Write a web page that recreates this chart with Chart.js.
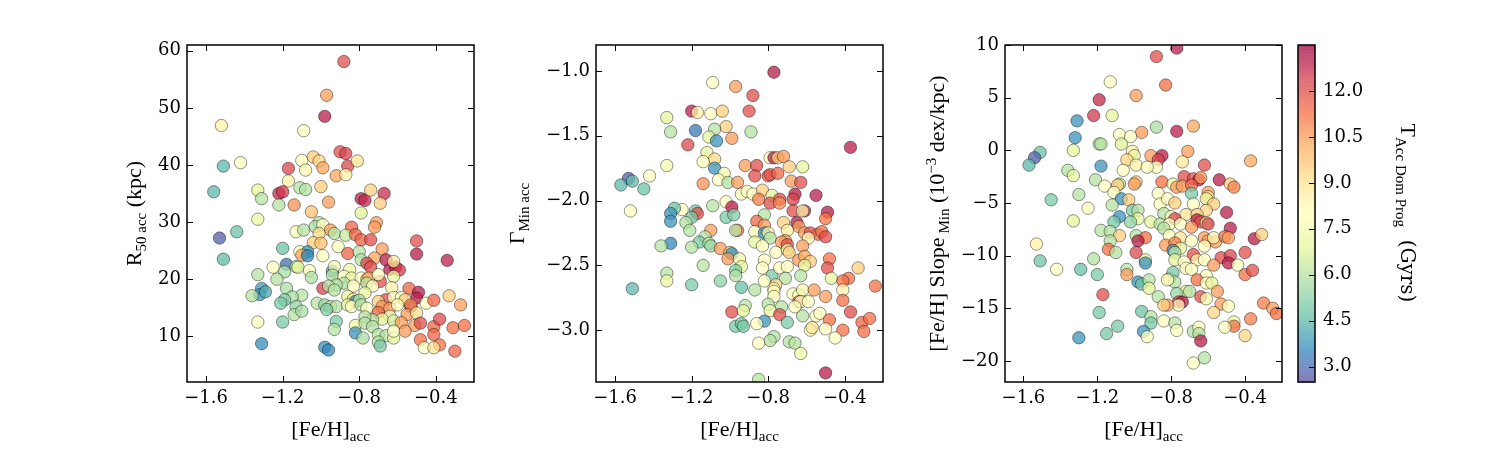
<!DOCTYPE html>
<html>
<head>
    <title>[Fe/H] acc vs R50, Gamma Min and Slope Min</title>
    <meta charset="utf-8">
    <script src="https://cdn.jsdelivr.net/npm/chart.js"></script>
    <style>
        body { margin: 0; background: #fff; }
        #wrap { position: relative; width: 1500px; height: 450px; }
        #wrap canvas { position: absolute; left: 0; top: 0; }
    </style>
</head>
<body>
<div id="wrap">
    <canvas id="c1" width="1500" height="450"></canvas>
    <canvas id="c2" width="1500" height="450"></canvas>
    <canvas id="c3" width="1500" height="450"></canvas>
    <canvas id="cb" width="1500" height="450"></canvas>
</div>
<script>
// ---- data ----
// panel 1: [Fe/H]acc, R50 acc (kpc), T Acc Dom Prog (Gyrs)
var feh1 = [
    -0.88,-0.97,-0.98,-1.52,-1.09,-0.90,-0.87,-1.42,-1.51,-1.10,
    -1.04,-1.01,-1.17,-1.08,-0.99,-0.86,-0.81,-0.92,-0.87,-1.17,
    -1.56,-1.33,-1.31,-1.22,-1.20,-1.11,-1.08,-1.00,-0.96,-1.14,
    -1.22,-0.79,-0.77,-0.74,-0.67,-0.69,-1.05,-0.79,-1.33,-0.71,
    -0.72,-0.84,-1.01,-1.13,-1.09,-1.03,-0.99,-0.95,-0.93,-1.01,
    -1.44,-0.87,-0.82,-0.79,-0.74,-0.50,-1.04,-1.00,-1.53,-0.91,
    -1.20,-1.11,-1.07,-1.10,-1.07,-0.86,-0.80,-0.79,-0.68,-0.72,
    -0.50,-0.34,-0.66,-1.51,-0.99,-0.76,-0.74,-0.64,-0.61,-0.59,
    -0.62,-1.25,-1.18,-1.13,-1.12,-1.06,-0.94,-0.93,-0.85,-1.33,
    -1.19,-1.05,-0.94,-0.88,-1.23,-0.84,-0.79,-0.76,-0.75,-0.69,
    -0.70,-0.62,
    -0.88,-0.92,-0.83,-0.76,-0.73,-0.99,-0.96,
    -1.18,-1.31,-1.32,-1.29,-1.36,-1.10,-1.15,-1.19,-0.93,-0.77,
    -0.63,-0.54,-0.49,-0.33,-0.50,-0.86,-0.83,-0.82,-0.80,-0.66,
    -0.62,-0.58,-0.56,-0.45,-0.41,-0.27,-1.02,-0.98,-0.95,-0.92,
    -0.86,-0.84,-0.79,-0.76,-0.70,-0.68,-0.64,-0.60,-0.53,-0.53,
    -0.55,-0.50,-1.13,-1.14,-1.10,
    -1.21,-0.97,-0.70,-0.64,
    -0.68,-0.73,-0.77,-0.62,-0.58,-0.51,-0.48,-0.41,-0.38,
    -0.31,-0.25,-1.33,-1.20,-0.92,-0.82,-0.77,-0.73,-0.93,-0.82,
    -0.78,-0.70,-0.66,-0.62,-0.62,-0.56,-0.41,-0.48,-0.38,-0.30,
    -0.46,-0.41,-1.31,-0.98,-0.96,-0.70,-0.69
];
var r50 = [
    58.1,52.2,48.5,46.9,46.0,42.3,42.0,40.4,39.8,40.8,
    41.4,40.7,39.4,39.1,39.5,39.8,40.7,38.1,38.3,37.2,
    35.3,35.6,34.1,35.0,35.3,36.0,35.7,36.2,33.5,33.0,
    33.0,34.1,33.8,35.6,35.0,33.3,31.8,31.6,30.5,29.9,
    29.1,29.1,29.9,28.3,28.6,29.2,29.5,28.6,28.0,28.0,
    28.3,27.7,27.8,26.9,26.9,26.7,26.4,26.3,27.2,25.7,
    25.4,24.8,24.8,24.2,24.1,24.5,24.8,23.4,25.3,23.7,
    24.4,23.3,23.4,23.5,24.1,22.8,22.1,21.7,22.1,21.6,
    23.1,22.1,22.6,22.2,22.1,21.5,21.4,22.2,21.7,20.8,
    21.3,20.3,20.7,20.5,20.0,20.2,20.2,20.0,20.2,19.6,
    20.8,20.5,
    19.3,19.0,18.8,19.3,18.8,18.4,18.8,
    18.4,18.4,17.3,17.8,17.1,17.2,16.9,16.4,18.1,17.6,
    18.5,18.4,17.7,17.1,16.7,17.0,16.5,16.1,16.3,16.4,
    16.8,16.8,16.4,15.8,16.3,15.5,15.8,15.5,15.2,15.2,
    15.5,15.2,15.5,14.9,16.1,15.2,14.9,15.5,15.2,15.5,
    13.8,14.1,15.2,13.8,14.4,
    15.8,14.7,14.2,13.5,
    13.0,12.9,13.4,12.7,12.4,11.9,12.3,11.7,13.0,
    11.5,11.9,12.5,12.5,12.6,11.9,12.3,11.7,11.2,10.6,
    9.7,10.3,10.1,9.7,10.9,10.9,10.3,9.4,8.5,7.4,
    8.0,8.0,8.7,8.1,7.6,9.0,8.3
];
var tAcc1 = [
    12,10.5,13,8.5,8,12,12.3,8,4.5,8,
    9.5,9.3,12.2,8.3,10.3,12.2,9,10.3,8.5,8.5,
    4.5,7,6,12.8,12.5,6,6,9.5,10.5,10.7,
    6,13,12.8,9.5,12.7,9.6,9.8,6.8,7.2,10.5,
    10.5,11.5,6,8,6,5.8,8,10.5,6,9.2,
    4.8,6.3,11.5,11.5,12,12,9.5,9.8,2.8,8,
    4.8,7.8,3.8,10.3,3.6,11.5,6,6,10.5,10.3,
    13,13,13,4.6,8,12.2,12,13,13,12.5,
    8.8,8,3.2,6.2,7,8,4,7.5,7.2,6,
    5.8,5.8,6,8,6,7.5,8,9.5,10.3,12,
    8,7,
    5.8,6,8,6,8,12.3,6,
    5.8,4,3.8,4.2,6,6,5.8,5.2,6,7,
    8.5,11.5,13,9.5,13,7,9,3.8,6,12,
    8,8,9.5,8,11.5,10.5,6,5.5,6,6,
    7,8,6,8,9.5,10.5,10.5,8,13,10.8,
    10.5,9,5.5,6,5.8,
    5,5.2,11.5,8,
    7,6,6,6.5,10.5,10.5,12,11.5,12.2,
    11.3,11.3,8,5,5,7.2,6,6,6,3.8,
    5.8,6,6,7,8,10.5,11.5,11.3,11.3,11.5,
    8,9,3.7,3.7,3.6,6,5
];

// panel 2: [Fe/H]acc, Gamma Min acc, T Acc Dom Prog (Gyrs)
var feh2 = [
    -0.77,-1.09,-0.97,-0.88,-1.20,-1.17,-1.10,-1.04,-0.90,-1.33,
    -1.02,-1.08,-0.89,-1.31,-1.18,-1.11,-1.07,-0.99,-1.22,-0.37,
    -1.12,-1.08,-1.14,-0.79,-0.77,-0.75,-0.72,-1.33,-0.92,-0.86,
    -0.69,-0.62,-1.08,-1.03,-1.42,-1.53,-1.57,-1.51,-1.45,-1.06,
    -0.87,-0.80,-0.79,-0.75,-0.68,-0.63,-1.14,-1.01,-0.96,-0.94,
    -0.91,-0.88,-0.83,-0.78,-0.85,-0.74,-0.66,-0.67,-0.55,-0.79,
    -0.74,-1.52,-1.25,-1.29,-1.31,-1.31,-1.31,-1.09,-1.02,-0.99,
    -1.02,-0.98,-1.18,-1.17,-1.20,-1.23,-1.21,-0.67,-0.61,-0.62,
    -0.49,-0.50,-0.82,-0.65,-0.72,-0.86,-0.82,-0.64,-1.10,-0.96,
    -0.97,-0.87,-0.82,-0.80,-0.79,-0.70,-0.71,-0.61,-0.58,-0.54,
    -0.52,-0.50,-0.59,-1.13,-1.16,-1.11,-1.10,-1.36,-1.20,-0.87,
    -0.83,-0.73,-0.70,-0.76,-0.70,-0.69,-0.62,-1.05,-1.00,-0.99,
    -1.01,-0.95,-0.94,-0.82,-0.64,-0.61,-0.58,-0.61,-0.48,-0.49,
    -1.14,-1.33,-0.97,-0.97,-1.33,-0.83,-0.78,-0.74,-0.70,-0.63,
    -0.47,-0.38,-0.41,-0.33,-1.20,-1.05,-0.94,-1.51,-0.82,-0.71,
    -0.76,-0.77,-0.77,-0.87,-0.24,-0.67,-0.64,-0.62,-0.56,-0.50,
    -0.41,-0.41,-0.77,-0.64,-0.63,-0.59,-0.80,-0.73,-0.79,-0.66,
    -0.99,-0.92,-0.93,-0.74,-0.62,-0.55,-0.53,-0.48,-0.37,-0.31,
    -0.27,-0.97,-0.94,-0.93,-0.82,-0.86,-0.70,-0.58,-0.57,-0.50,
    -0.41,-0.30,-0.77,-0.79,-0.85,-0.69,-0.66,-0.45,-0.63,-0.50,
    -0.85
];
var gammaMin = [
    -1.01,-1.09,-1.12,-1.19,-1.31,-1.32,-1.33,-1.31,-1.31,-1.36,
    -1.43,-1.45,-1.47,-1.47,-1.46,-1.51,-1.54,-1.52,-1.57,-1.59,
    -1.63,-1.68,-1.70,-1.67,-1.67,-1.67,-1.66,-1.73,-1.73,-1.73,
    -1.74,-1.74,-1.75,-1.79,-1.81,-1.83,-1.88,-1.85,-1.91,-1.84,
    -1.81,-1.81,-1.80,-1.79,-1.85,-1.86,-1.87,-1.86,-1.86,-1.95,
    -1.93,-1.95,-1.92,-1.96,-1.99,-1.99,-1.95,-1.99,-1.96,-2.02,
    -2.02,-2.08,-2.07,-2.06,-2.10,-2.16,-2.33,-2.04,-2.01,-2.05,
    -2.13,-2.11,-2.08,-2.10,-2.13,-2.17,-2.23,-2.08,-2.08,-2.08,
    -2.09,-2.14,-2.11,-2.17,-2.17,-2.16,-2.19,-2.20,-2.23,-2.23,
    -2.23,-2.24,-2.25,-2.25,-2.29,-2.23,-2.31,-2.25,-2.25,-2.26,
    -2.24,-2.28,-2.29,-2.28,-2.32,-2.33,-2.35,-2.35,-2.36,-2.32,
    -2.35,-2.32,-2.34,-2.40,-2.38,-2.40,-2.35,-2.37,-2.40,-2.41,
    -2.45,-2.45,-2.51,-2.46,-2.46,-2.43,-2.47,-2.50,-2.45,-2.52,
    -2.50,-2.56,-2.54,-2.58,-2.62,-2.52,-2.58,-2.52,-2.51,-2.58,
    -2.60,-2.60,-2.62,-2.52,-2.65,-2.62,-2.67,-2.68,-2.62,-2.60,
    -2.65,-2.68,-2.70,-2.69,-2.66,-2.72,-2.73,-2.69,-2.69,-2.74,
    -2.69,-2.77,-2.74,-2.78,-2.78,-2.78,-2.80,-2.82,-2.85,-2.82,
    -2.86,-2.81,-2.85,-2.88,-2.89,-2.89,-2.87,-2.92,-2.86,-2.94,
    -2.91,-2.97,-2.95,-2.97,-2.93,-2.95,-2.94,-3.00,-2.98,-2.99,
    -3.00,-3.01,-3.05,-3.08,-3.10,-3.09,-3.10,-3.06,-3.18,-3.33,
    -3.38
];
var tAcc2 = [
    13,8,10.5,12,13,8.5,8,9.5,12,7,
    9.5,6,6,6,3.3,7,3.8,10.5,12.2,13,
    7,9.2,8,8,13,9.5,10.5,7.5,10.5,12,
    9.5,7,3.8,7.5,8,2.8,4.5,4.6,4.8,8,
    12,11.5,12,11.5,10.5,12,10.7,6,10.5,8,
    8,8,9.5,7,11,12,13,12.3,13,12,
    10.8,8,8,4.8,3.8,3.8,3.6,6,8,13,
    5,5.2,5,12,5,6,6,12,13,8.5,
    13,11.2,6,13,9.5,11.5,10.5,10.5,10.5,11,
    6,8,3.8,7.3,6,8.7,10.5,10.5,12,11.5,
    11.3,12,8,6,5,6,5.5,6,6,7,
    8,10.5,12,8,7.3,9.5,10.5,10.5,9.5,3.8,
    10.5,7.5,7,8,10.5,10.3,9.5,7,11.3,12,
    6,6,5,6,7.3,8,5,8,8,6,
    7,11.3,11.3,9.5,5,5.3,4.7,4.5,8,6,
    9.3,8,8.3,6,11.3,8,8,7.5,10.5,10.5,
    8.5,11.3,8,11.3,8,8,6,6,7.3,8,
    12,6,7,12,6,8,8,11.3,12,11.5,
    11.3,5,5,5,3.8,8,5,8,9,8,
    11.3,11.3,6,6,8,6,6,8,7.3,13,
    6
];

// panel 3: [Fe/H]acc, [Fe/H] Slope Min (1e-3 dex/kpc), T Acc Dom Prog (Gyrs)
var feh3 = [
    -0.77,-0.88,-0.83,-1.13,-0.99,-1.19,-1.22,-1.12,-1.31,-0.88,
    -0.68,-0.77,-0.96,-1.08,-1.02,-1.32,-1.19,-1.18,-1.07,-1.33,
    -1.51,-1.54,-1.57,-1.01,-1.00,-1.04,-0.99,-0.91,-0.85,-0.87,
    -0.88,-0.93,-0.71,-0.74,-0.62,-0.37,-1.18,-1.06,-1.36,-1.33,
    -1.21,-1.08,-1.09,-1.16,-1.11,-0.99,-1.00,-0.85,-0.73,-0.68,
    -0.65,-0.64,-0.54,-0.79,-0.77,-0.74,-0.69,-0.48,-0.46,-0.69,
    -0.87,-0.60,-0.60,-1.30,-1.45,-1.07,-1.03,-1.25,-0.86,-0.82,
    -0.78,-0.68,-0.61,-0.57,-0.61,-0.50,-1.12,-1.01,-0.98,-1.08,
    -0.98,-0.84,-0.80,-0.72,-0.66,-0.78,-1.33,-1.11,-1.02,-0.91,
    -0.86,-0.81,-0.75,-0.66,-0.64,-0.61,-0.60,-0.84,-0.69,-0.48,
    -1.18,-1.13,-1.08,-0.99,-0.94,-0.98,-0.81,-0.75,-0.69,-0.62,
    -0.60,-0.56,-0.57,-0.51,-0.49,-0.35,-0.31,-1.13,-1.53,-0.83,
    -0.78,-0.75,-0.79,-0.62,-1.14,-1.10,-0.99,-0.78,-0.68,-0.53,
    -0.48,-0.40,
    -0.94,-0.94,-1.22,-1.51,-0.78,-0.73,-0.66,
    -0.62,-0.57,-0.49,-0.44,-1.42,-1.29,-1.20,-1.04,-1.04,-0.72,
    -0.69,-0.61,-0.40,-0.36,-0.81,-0.79,-0.78,-0.82,-0.98,-0.96,
    -0.92,-0.92,-0.66,-0.61,-0.58,-0.72,-0.70,-0.77,-0.55,-1.17,
    -0.87,-0.64,-0.61,-0.76,-0.74,-0.76,-0.82,-0.84,-0.53,-0.49,
    -0.96,-1.19,-0.57,-0.30,-0.25,-0.23,-0.37,-0.91,-0.91,-0.84,
    -0.78,-0.46,-0.46,-0.51,-1.09,-1.15,-1.30,-0.95,-0.93,-0.77,
    -0.68,-0.65,-0.65,-0.40,-0.64,-0.68,-0.62
];
var slopeMin = [
    9.7,8.9,6.2,6.5,5.2,4.8,3.3,3.3,2.8,2.2,
    2.3,1.8,1.7,1.5,1.3,1.2,0.6,0.6,0.6,0.0,
    -0.2,-0.7,-1.4,-0.1,-0.5,-0.9,-1.4,-0.5,-0.5,-0.9,
    -1.6,-1.6,-0.1,-1.1,-1.4,-1.0,-1.5,-1.9,-1.9,-2.4,
    -2.8,-3.2,-3.3,-3.4,-4.0,-3.0,-3.2,-3.0,-2.5,-2.7,
    -2.8,-2.6,-2.8,-3.2,-3.5,-3.4,-3.3,-3.2,-3.5,-4.1,
    -4.1,-4.0,-4.4,-4.2,-4.7,-4.6,-4.7,-5.5,-5.1,-4.6,
    -5.0,-5.1,-4.6,-5.1,-5.7,-5.9,-5.2,-5.7,-5.7,-6.3,
    -6.5,-6.0,-6.3,-6.1,-6.1,-6.5,-6.7,-6.8,-6.8,-6.8,
    -7.0,-7.0,-7.0,-6.6,-6.8,-6.9,-7.0,-7.4,-7.3,-7.4,
    -7.6,-7.7,-8.1,-8.1,-8.3,-8.6,-8.1,-8.3,-8.6,-8.3,
    -8.6,-8.7,-8.3,-8.2,-8.3,-8.4,-8.0,-8.6,-8.9,-9.0,
    -8.8,-9.3,-9.5,-9.1,-9.4,-9.7,-9.7,-9.7,-9.9,-10.2,
    -10.0,-9.7,
    -10.4,-10.7,-10.3,-10.5,-10.4,-10.6,-10.4,
    -10.4,-10.9,-10.7,-10.9,-11.3,-11.3,-11.8,-11.3,-11.8,-11.2,
    -11.3,-11.9,-11.8,-11.4,-12.2,-11.6,-12.5,-12.3,-12.5,-12.7,
    -12.3,-13.1,-12.3,-12.6,-12.6,-13.4,-13.4,-13.6,-13.4,-13.7,
    -13.9,-13.9,-14.1,-14.4,-14.4,-14.7,-14.7,-14.7,-14.6,-14.8,
    -15.3,-15.4,-15.4,-14.5,-15.0,-15.5,-16.0,-15.8,-16.4,-16.2,
    -16.4,-16.3,-16.7,-16.8,-16.7,-17.4,-17.8,-17.2,-17.7,-17.1,
    -17.2,-16.8,-17.4,-17.6,-18.1,-20.2,-19.7
];
var tAcc3 = [
    13,12,11.3,8,10.5,12.8,12.5,7,3.8,5.8,
    10.3,13,10.5,8,8,3.8,6,6,6.8,7,
    4.7,2.8,4.5,8.5,7,9.3,8.5,10.5,13,12.3,
    8,8,10.5,8.8,12,10.3,3.8,8,6,7,
    6,6,9.5,8,8,9.5,10.5,11.3,12,12,
    13,10.5,13,7,10.5,10.5,11.5,9.5,11,5,
    8,10.5,9.3,6,5,3.8,9.5,8,8,8,
    9.5,8,7,9.5,9.3,13,6,5,6,3.8,
    7,6,8,9,9.3,12.2,7,5,5.3,7,
    6,8,8,13,12,7,12.2,6,10.5,13,
    6,6,9.5,6,11.3,13,8,9,8,10.5,
    10.5,10.5,8.3,11.3,10.5,13,9.5,6,8.5,10.5,
    11,7,3.8,8,11.3,6,12.2,6,12,12,
    12.3,12,
    7,3.8,6,4.8,7,8,8.5,
    8,10.5,13,8,8,4.7,5,6,10.5,8,
    8,8,11.3,12,9,5,6,8,3.8,4.8,
    6,7,11.3,8,7,7,6,5.5,10.5,12,
    6,12,7.5,12.3,13,8,10.5,9.5,10.5,8,
    4.8,5,9.3,11,10.5,11.3,11,6,5,8,
    6,7.3,11.3,8,5,5,3.8,3.8,8,8,
    6,8,6,9.3,13,8,6
];

// axis limits and tick labels
var xLim = [-1.7, -0.2];
var xTicks = [-1.6, -1.2, -0.8, -0.4];
var r50Lim = [2, 61];
var r50Ticks = [10, 20, 30, 40, 50, 60];
var gammaLim = [-3.4, -0.8];
var gammaTicks = [-3.0, -2.5, -2.0, -1.5, -1.0];
var slopeLim = [-22, 10];
var slopeTicks = [-20, -15, -10, -5, 0, 5, 10];
var tLim = [2.5, 13.5];
var tTicks = [3.0, 4.5, 6.0, 7.5, 9.0, 10.5, 12.0];

// ---- look ----
var W = 1500, H = 450;
var Y_W = 70, X_H = 40, CB_W = 80;
var ALPHA = 0.75;
var TICK_FONT = { family: 'DejaVu Serif', size: 18 };
var MATH = '22px "Liberation Serif"';
var SUB = '15px "Liberation Serif"';
var TEXT = '20px "DejaVu Serif"';

// Spectral colour map, used reversed (low = purple, high = dark red)
var spectral = ['#9e0142', '#d53e4f', '#f46d43', '#fdae61', '#fee08b', '#ffffbf',
                '#e6f598', '#abdda4', '#66c2a5', '#3288bd', '#5e4fa2'];

function hexToRgb(h) {
    return [parseInt(h.substr(1, 2), 16), parseInt(h.substr(3, 2), 16), parseInt(h.substr(5, 2), 16)];
}
function rgbFor(t) {
    var f = (t - tLim[0]) / (tLim[1] - tLim[0]);
    f = Math.min(1, Math.max(0, f));
    var pos = (1 - f) * (spectral.length - 1);
    var i = Math.min(Math.floor(pos), spectral.length - 2);
    var w = pos - i;
    var c0 = hexToRgb(spectral[i]), c1 = hexToRgb(spectral[i + 1]);
    return c0.map(function(v, k) { return v + (c1[k] - v) * w; });
}
function rgba(t, a) {
    var c = rgbFor(t).map(Math.round);
    return 'rgba(' + c.join(',') + ',' + a + ')';
}
// same colour already laid on white (for the colour bar, no seams)
function onWhite(t, a) {
    var c = rgbFor(t).map(function(v) { return Math.round(v * a + 255 * (1 - a)); });
    return 'rgb(' + c.join(',') + ')';
}
function minus(s) { return String(s).replace('-', '\u2212'); }

// box round the axes, with inward ticks
var frame = {
    id: 'frame',
    afterDraw: function(chart, args, opts) {
        var ctx = chart.ctx, a = chart.chartArea;
        var xs = chart.scales.x, ys = chart.scales.y;
        var L = 6;
        ctx.save();
        ctx.strokeStyle = '#000';
        ctx.lineWidth = 1;
        ctx.beginPath();
        if (opts.xTicks) {
            xs.ticks.forEach(function(t) {
                var px = Math.round(xs.getPixelForValue(t.value)) + 0.5;
                ctx.moveTo(px, a.bottom); ctx.lineTo(px, a.bottom - L);
                ctx.moveTo(px, a.top); ctx.lineTo(px, a.top + L);
            });
        }
        ys.ticks.forEach(function(t) {
            var py = Math.round(ys.getPixelForValue(t.value)) + 0.5;
            if (opts.yLeft) { ctx.moveTo(a.left, py); ctx.lineTo(a.left + L, py); }
            ctx.moveTo(a.right, py); ctx.lineTo(a.right - L, py);
        });
        ctx.stroke();
        ctx.lineWidth = 1.5;
        ctx.strokeRect(a.left, a.top, a.right - a.left, a.bottom - a.top);
        ctx.restore();
    }
};

// axis titles with sub / superscripts
var titles = {
    id: 'titles',
    afterDraw: function(chart, args, opts) {
        var ctx = chart.ctx;
        (opts.items || []).forEach(function(it) {
            ctx.save();
            ctx.fillStyle = '#000';
            ctx.textBaseline = 'alphabetic';
            ctx.textAlign = 'left';
            ctx.translate(it.x, it.y);
            ctx.rotate(it.angle || 0);
            var total = 0;
            var widths = it.parts.map(function(p) {
                ctx.font = p[1];
                var w = ctx.measureText(p[0]).width;
                total += w;
                return w;
            });
            var cx = -total / 2;
            it.parts.forEach(function(p, i) {
                ctx.font = p[1];
                ctx.fillText(p[0], cx, p[2] || 0);
                cx += widths[i];
            });
            ctx.restore();
        });
    }
};

// colour bar fill
var colourBar = {
    id: 'colourBar',
    beforeDatasetsDraw: function(chart) {
        var ctx = chart.ctx, a = chart.chartArea, ys = chart.scales.y;
        var n = 220;
        for (var i = 0; i < n; i++) {
            var v0 = tLim[0] + (tLim[1] - tLim[0]) * i / n;
            var v1 = tLim[0] + (tLim[1] - tLim[0]) * (i + 1) / n;
            var y0 = ys.getPixelForValue(v0), y1 = ys.getPixelForValue(v1);
            ctx.fillStyle = onWhite((v0 + v1) / 2, ALPHA);
            ctx.fillRect(a.left, y1, a.right - a.left, y0 - y1 + 0.6);
        }
    }
};

var xLabel = [['[Fe/H]', MATH, 0], ['acc', SUB, 5]];

function panel(id, area, xs, ys, ts, yLim, yTicks, yDigits, yLabel) {
    var pts = xs.map(function(x, i) { return { x: x, y: ys[i] }; });
    var mid = (area.left + area.right) / 2;
    return new Chart(document.getElementById(id), {
        type: 'scatter',
        data: {
            datasets: [{
                data: pts,
                pointRadius: 6.2,
                pointHoverRadius: 6.2,
                pointBackgroundColor: ts.map(function(t) { return rgba(t, ALPHA); }),
                pointBorderColor: 'rgba(0,0,0,0.6)',
                pointBorderWidth: 0.7,
                clip: 0
            }]
        },
        options: {
            responsive: false,
            animation: false,
            events: [],
            layout: { padding: { left: area.left - Y_W, right: W - area.right, top: area.top, bottom: H - area.bottom - X_H } },
            plugins: {
                legend: { display: false },
                tooltip: { enabled: false },
                frame: { xTicks: true, yLeft: true },
                titles: { items: [
                    { parts: xLabel, x: mid, y: 436, angle: 0 },
                    { parts: yLabel.parts, x: yLabel.x, y: (area.top + area.bottom) / 2, angle: -Math.PI / 2 }
                ] }
            },
            scales: {
                x: {
                    type: 'linear', min: xLim[0], max: xLim[1],
                    grid: { display: false, drawTicks: false },
                    border: { display: false },
                    afterBuildTicks: function(s) { s.ticks = xTicks.map(function(v) { return { value: v }; }); },
                    afterFit: function(s) { s.height = X_H; },
                    ticks: { font: TICK_FONT, color: '#000', padding: 6, maxRotation: 0, autoSkip: false,
                             callback: function(v) { return minus(v.toFixed(1)); } }
                },
                y: {
                    type: 'linear', min: yLim[0], max: yLim[1],
                    grid: { display: false, drawTicks: false },
                    border: { display: false },
                    afterBuildTicks: function(s) { s.ticks = yTicks.map(function(v) { return { value: v }; }); },
                    afterFit: function(s) { s.width = Y_W; },
                    ticks: { font: TICK_FONT, color: '#000', padding: 6, autoSkip: false,
                             callback: function(v) { return minus(v.toFixed(yDigits)); } }
                }
            }
        },
        plugins: [frame, titles]
    });
}

panel('c1', { left: 187, right: 474, top: 45, bottom: 382 }, feh1, r50, tAcc1, r50Lim, r50Ticks, 0,
      { x: 141, parts: [['R', MATH, 0], ['50 acc', SUB, 5], [' (kpc)', MATH, 0]] });
panel('c2', { left: 596, right: 883, top: 45, bottom: 382 }, feh2, gammaMin, tAcc2, gammaLim, gammaTicks, 1,
      { x: 524, parts: [['\u0393', MATH, 0], ['Min acc', SUB, 5]] });
panel('c3', { left: 1005, right: 1282, top: 45, bottom: 382 }, feh3, slopeMin, tAcc3, slopeLim, slopeTicks, 0,
      { x: 944, parts: [['[Fe/H] Slope', MATH, 0], [' Min', SUB, 5], [' (10', MATH, 0], ['\u22123', SUB, -8], [' dex/kpc)', MATH, 0]] });

// colour bar
var cb = { left: 1298, right: 1315, top: 45, bottom: 382 };
new Chart(document.getElementById('cb'), {
    type: 'scatter',
    data: { datasets: [] },
    options: {
        responsive: false,
        animation: false,
        events: [],
        layout: { padding: { left: cb.left, right: W - cb.right - CB_W, top: cb.top, bottom: H - cb.bottom } },
        plugins: {
            legend: { display: false },
            tooltip: { enabled: false },
            frame: { xTicks: false, yLeft: false },
            titles: { items: [
                { parts: [['T', MATH, 0], ['Acc Dom Prog', SUB, 5], ['  (Gyrs)', TEXT, 0]], x: 1401, y: 213, angle: Math.PI / 2 }
            ] }
        },
        scales: {
            x: { display: false, min: 0, max: 1 },
            y: {
                position: 'right', min: tLim[0], max: tLim[1],
                grid: { display: false, drawTicks: false },
                border: { display: false },
                afterBuildTicks: function(s) { s.ticks = tTicks.map(function(v) { return { value: v }; }); },
                afterFit: function(s) { s.width = CB_W; },
                ticks: { font: TICK_FONT, color: '#000', padding: 8, autoSkip: false,
                         callback: function(v) { return v.toFixed(1); } }
            }
        }
    },
    plugins: [colourBar, frame, titles]
});
</script>
</body>
</html>
